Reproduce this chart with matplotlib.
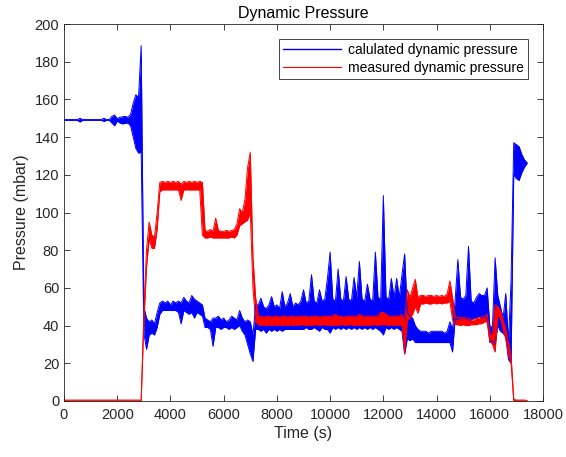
import numpy as np
import matplotlib
matplotlib.use("Agg")
import matplotlib.pyplot as plt
from matplotlib.lines import Line2D

plt.rcParams['font.family'] = ['Liberation Sans', 'DejaVu Sans']

# sample times (s), one reading every 100 s
time_s = np.arange(0, 17500, 100)

# calculated dynamic pressure: upper / lower envelope read at each sample (mbar)
calc_hi = [
    149.3, 149.3, 149.3, 149.3, 149.3, 149.3, 150.0, 149.3, 149.3, 149.3,
    149.3, 149.3, 149.3, 149.3, 149.3, 150.0, 149.3, 149.3, 151.0, 151.7,
    149.8, 150.5, 150.8, 151.0, 150.5, 152.0, 158.0, 162.5, 161.0, 188.5,
    50, 44, 42, 43, 41, 47, 52, 53, 52, 53,
    51, 53, 52, 53, 52, 55, 53, 52, 56, 54,
    53, 52, 51, 44, 43, 42, 44, 44, 45, 43,
    44, 42, 43, 45, 44, 43, 48, 44, 42, 43,
    42, 35, 51, 51, 54.5, 50, 49, 51, 55.4, 50,
    51, 49, 58, 50, 52, 57, 50, 52, 51, 53,
    59, 52, 53, 67, 53, 52, 59, 53, 54, 65,
    79, 54, 53, 70, 54, 53, 66, 54, 53, 65.5,
    55, 74, 54, 53, 62, 54, 53, 79, 55, 54,
    109, 55, 54, 65, 55, 65, 55, 67, 78, 47,
    45, 44, 40, 38, 37, 37, 37, 36, 37, 37,
    37, 37, 37, 36, 37, 42, 38, 54, 75, 55,
    54, 56, 82, 53, 52, 55, 57, 56, 56, 60,
    40, 39, 76, 56, 50, 44, 57, 31, 64, 137,
    136, 135, 131, 128, 126.5,
]
calc_lo = [
    148.9, 148.9, 148.9, 148.9, 148.9, 148.9, 148.0, 148.9, 148.9, 148.9,
    148.9, 148.9, 148.9, 148.9, 148.9, 148.3, 148.9, 148.9, 147.5, 146.0,
    148.5, 147.5, 147.0, 147.3, 147.5, 146.0, 140.0, 134.0, 131.5, 132.0,
    36, 27.4, 35, 36, 35, 39, 46, 48, 48, 48,
    48, 48, 48, 47, 41, 48, 47, 46, 47, 44,
    47, 46, 45, 39, 39, 38, 29, 39, 39, 38,
    39, 39, 38, 39, 38, 39, 40, 37, 35, 30,
    25, 21, 38, 38, 37, 38, 36, 38, 37, 38,
    37, 38, 37, 38, 38, 38, 38, 38, 38, 38,
    38, 39, 38, 38, 39, 38, 37, 39, 38, 38,
    36, 39, 38, 39, 38, 39, 38, 39, 38, 39,
    38, 39, 38, 39, 38, 39, 38, 39, 38, 37,
    35, 39, 38, 39, 38, 39, 38, 37, 25, 33,
    32, 33, 31, 31, 31, 31, 31, 31, 31, 31,
    31, 31, 31, 31, 31, 31, 26, 44, 43, 44,
    44, 44, 43, 43, 44, 44, 45, 44, 45, 44,
    31, 32, 30, 40, 37, 36, 34, 22, 20, 120,
    118, 117, 121, 124, 126,
]

# measured dynamic pressure: upper / lower envelope read at each sample (mbar)
meas_hi = [
    0.5, 0.5, 0.5, 0.5, 0.5, 0.5, 0.5, 0.5, 0.5, 0.5,
    0.5, 0.5, 0.5, 0.5, 0.5, 0.5, 0.5, 0.5, 0.5, 0.5,
    0.5, 0.5, 0.5, 0.5, 0.5, 0.5, 0.5, 0.5, 0.5, 0.5,
    47, 80, 95, 88, 87, 100, 116, 116.5, 116, 116.5,
    116, 116.5, 116, 116.5, 115, 116.5, 116, 116.5, 116, 116.5,
    116, 116.5, 116, 90.5, 90, 91, 90, 97, 90.5, 90,
    90, 90.5, 90, 90.5, 91, 94, 102, 100, 107, 124,
    132, 76, 55, 45, 45, 44.5, 45, 45, 44.5, 45,
    45, 44.5, 45, 45, 44.5, 45, 45, 44.5, 45, 45,
    45, 45, 44.5, 45, 45, 45, 44.5, 45, 45, 45,
    45, 45, 46, 45, 45, 44.5, 45, 45, 45, 45,
    45, 46, 45, 45, 45, 45, 45, 45, 45, 47,
    47, 46, 45, 45, 45, 45, 45, 46, 42, 59,
    55, 60, 64.6, 55, 56, 56, 55.5, 56, 56, 55.5,
    56, 55.5, 56, 55.5, 57, 63.7, 55, 44.5, 44.5, 44,
    44.5, 44, 44, 43, 43, 44, 44, 45, 45, 46,
    36, 35, 51, 50, 48, 43, 38, 31, 24, 1,
    0.5, 0.5, 0.5, 0.5, 0.3,
]
meas_lo = [
    0, 0, 0, 0, 0, 0, 0, 0, 0, 0,
    0, 0, 0, 0, 0, 0, 0, 0, 0, 0,
    0, 0, 0, 0, 0, 0, 0, 0, 0, 0,
    41, 71, 86, 81, 81, 91, 111, 112, 112, 112,
    112, 112, 112, 112, 106.4, 112, 112, 112, 112, 112,
    112, 112, 88, 86.5, 86.5, 87, 86.5, 86.5, 86.5, 86.5,
    86.5, 86.5, 86.5, 87, 86.5, 88, 93, 94, 95, 96,
    100, 60, 42, 40.5, 40, 40.5, 40, 40.5, 40, 40.5,
    40, 40.5, 40, 40.5, 40, 40.5, 40, 40.5, 40, 40.5,
    40.5, 40, 40.5, 40, 40.5, 40.5, 40, 40.5, 40.5, 40,
    40.5, 40, 40.5, 40, 40.5, 40.5, 40, 40.5, 40.5, 40,
    40.5, 40, 40.5, 40, 40.5, 40, 40.5, 40.5, 40, 40.5,
    40.5, 40.5, 40, 40.5, 40, 40.5, 40, 40.5, 25, 43,
    44, 46, 50, 46.6, 51.5, 51.5, 52, 51.5, 51.5, 52,
    51.5, 52, 51.5, 52, 52, 53, 43, 40.5, 40.5, 40,
    40.5, 40, 40, 40.5, 40.5, 40.5, 41, 41, 42, 42,
    32, 30, 26, 45, 44, 38, 33, 25, 20, 0,
    0, 0, 0, 0, 0,
]

x_ticks = list(range(0, 18001, 2000))
y_ticks = list(range(0, 201, 20))
labels = ['calulated dynamic pressure', 'measured dynamic pressure']
colors = [(0, 0, 1), (1, 0, 0)]

fig = plt.figure(figsize=(5.66, 4.57), dpi=100)
ax = fig.add_axes([64 / 566, 1 - 401 / 457, 479 / 566, 377 / 457])

for lo, hi, col in [(calc_lo, calc_hi, colors[0]), (meas_lo, meas_hi, colors[1])]:
    ax.fill_between(time_s, lo, hi, color=col, lw=0)
    ax.plot(time_s, hi, color=col, lw=0.7)
    ax.plot(time_s, lo, color=col, lw=0.7)

ax.set_xlim(0, 18000)
ax.set_ylim(0, 200)
ax.set_xticks(x_ticks)
ax.set_yticks(y_ticks)

axis_col = '#262626'
for s in ax.spines.values():
    s.set_color(axis_col)
    s.set_linewidth(0.6)
ax.tick_params(direction='in', top=True, right=True, length=4, width=0.6,
               colors=axis_col, labelsize=10.5, labelcolor=axis_col)
ax.tick_params(axis='x', pad=5)

ax.set_title('Dynamic Pressure', fontsize=11.5, color='black', pad=4)
ax.set_xlabel('Time (s)', fontsize=11.5, color=axis_col, labelpad=3)
ax.set_ylabel('Pressure (mbar)', fontsize=11.5, color=axis_col, labelpad=4)

handles = [Line2D([], [], color=colors[0], lw=1.0),
           Line2D([], [], color=colors[1], lw=0.8)]
leg = ax.legend(handles, labels, loc='upper right',
                bbox_to_anchor=((528 - 64) / 479, (401 - 39) / 377),
                borderaxespad=0, fancybox=False, framealpha=1, edgecolor=axis_col,
                fontsize=10, handlelength=4.2, handletextpad=0.5,
                borderpad=0.3, labelspacing=0.25)
leg.get_frame().set_linewidth(0.6)

fig.savefig('out.png', dpi=100)
